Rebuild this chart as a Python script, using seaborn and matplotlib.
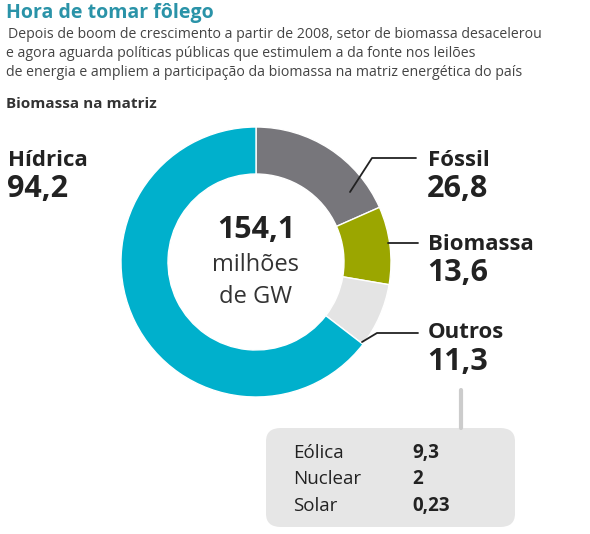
import matplotlib
matplotlib.use("Agg")
import matplotlib.pyplot as plt
import seaborn as sns
from matplotlib.patches import FancyBboxPatch

sns.set_theme(style="white")
plt.rcParams['font.family'] = ['Open Sans', 'DejaVu Sans']

labels = ["Fóssil", "Biomassa", "Outros", "Hídrica"]
values = [26.8, 13.6, 11.3, 94.2]
value_text = ["26,8", "13,6", "11,3", "94,2"]
colors = ["#77767b", "#9ba600", "#e4e4e4", "#00b0cc"]
sub_labels = ["Eólica", "Nuclear", "Solar"]
sub_values = ["9,3", "2", "0,23"]

W, H = 590, 534
fig = plt.figure(figsize=(W/100, H/100), dpi=100)
def fx(x): return x / W
def fy(y): return 1 - y / H

ax = fig.add_axes([121/W, 137/H, 270/W, 270/H])
ax.pie(values, colors=colors, startangle=90, counterclock=False, radius=1,
       wedgeprops=dict(width=47/135, edgecolor="white", linewidth=1))
ax.set_xlim(-1, 1); ax.set_ylim(-1, 1)
ax.set_aspect("equal")
ax.text(0, 0.24, "154,1", ha="center", va="center", fontsize=22, fontweight="bold", color="#222")
ax.text(0, -0.02, "milhões", ha="center", va="center", fontsize=17, color="#333")
ax.text(0, -0.26, "de GW", ha="center", va="center", fontsize=17, color="#333")

fig.text(fx(6), fy(13), "Hora de tomar fôlego", fontsize=14, fontweight="bold", color="#2a93a8", va="center")
for i, s in enumerate(["Depois de boom de crescimento a partir de 2008, setor de biomassa desacelerou",
                       "e agora aguarda políticas públicas que estimulem a da fonte nos leilões",
                       "de energia e ampliem a participação da biomassa na matriz energética do país"]):
    fig.text(fx(6 if i else 8), fy(35 + 18.5*i), s, fontsize=10.2, color="#444", va="center")
fig.text(fx(6), fy(104), "Biomassa na matriz", fontsize=11, fontweight="bold", color="#333", va="center")

pos = {"Hídrica": (8, 160), "Fóssil": (428, 160), "Biomassa": (428, 244), "Outros": (428, 333)}
for lab, vt in zip(labels, value_text):
    x, y = pos[lab]
    fig.text(fx(x), fy(y), lab, fontsize=16, fontweight="bold", color="#222", va="center")
    fig.text(fx(x - 1), fy(y + 29), vt, fontsize=22, fontweight="bold", color="#222", va="center")

lk = dict(color="#222", linewidth=1.3, transform=fig.transFigure)
fig.lines.append(plt.Line2D([fx(350), fx(372), fx(416)], [fy(192), fy(158), fy(158)], **lk))
fig.lines.append(plt.Line2D([fx(388), fx(418)], [fy(243), fy(243)], **lk))
fig.lines.append(plt.Line2D([fx(362), fx(377), fx(418)], [fy(342), fy(333), fy(333)], **lk))
fig.lines.append(plt.Line2D([fx(461), fx(461)], [fy(390), fy(428)], color="#cccccc", linewidth=3, transform=fig.transFigure))

box = FancyBboxPatch((fx(266), fy(527)), fx(515) - fx(266), fy(428) - fy(527),
                     boxstyle="round,pad=0,rounding_size=0.025", transform=fig.transFigure,
                     facecolor="#e6e6e6", edgecolor="none")
fig.patches.append(box)
for i, (n, v) in enumerate(zip(sub_labels, sub_values)):
    y = 453 + 26.5 * i
    fig.text(fx(293), fy(y), n, fontsize=13.5, color="#222", va="center")
    fig.text(fx(412), fy(y), v, fontsize=13.5, fontweight="bold", color="#222", va="center")

fig.savefig("out.png", dpi=100)
